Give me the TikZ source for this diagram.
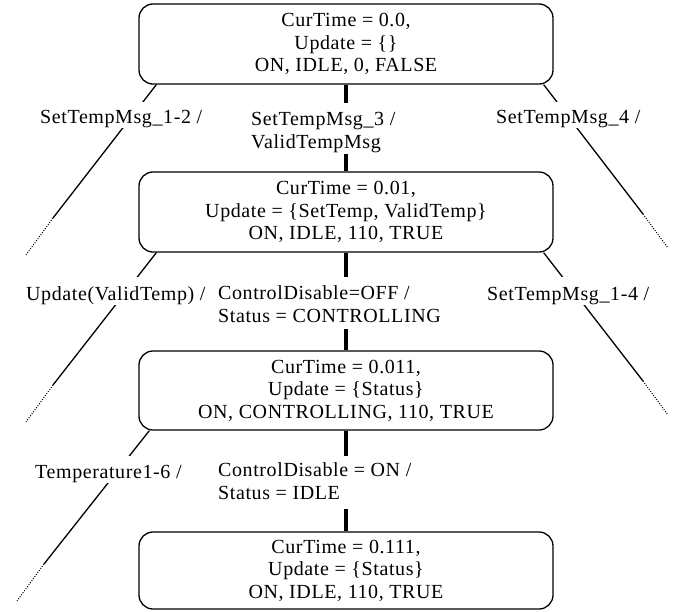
\documentclass[tikz,border=0pt]{standalone}
\usepackage{fontspec}
\setmainfont{Liberation Serif}[LetterSpace=3]
\usetikzlibrary{calc}
\begin{document}
\begin{tikzpicture}[x=1pt,y=-1pt,
  statebox/.style={draw, line width=1.3pt, rounded corners=14pt, minimum width=414pt, inner sep=0pt, align=center, font=\fontsize{20}{22.5}\selectfont},
  trans/.style={line width=1.3pt},
  main/.style={line width=4pt},
  more/.style={line width=1pt, dash pattern=on 1pt off 1.5pt},
  sidelbl/.style={fill=white, inner xsep=1pt, inner ysep=0pt, anchor=base west, font=\fontsize{20}{23}\selectfont},
  midlbl/.style={fill=white, inner xsep=1pt, inner ysep=0pt, anchor=north west, align=left, font=\fontsize{20}{23}\selectfont}
]
\useasboundingbox (0,0) rectangle (676,611);

% states
\node[statebox, minimum height=80pt] (b1) at (346,44) {CurTime = 0.0,\\ Update = \{\}\\ ON, IDLE, 0, FALSE};
\node[statebox, minimum height=80pt] (b2) at (346,212) {CurTime = 0.01,\\ Update = \{SetTemp, ValidTemp\}\\ ON, IDLE, 110, TRUE};
\node[statebox, minimum height=79pt] (b3) at (346,390.5) {CurTime = 0.011,\\ Update = \{Status\}\\ ON, CONTROLLING, 110, TRUE};
\node[statebox, minimum height=77pt] (b4) at (346,570.5) {CurTime = 0.111,\\ Update = \{Status\}\\ ON, IDLE, 110, TRUE};

% main transitions
\draw[main] (b1.south) -- (b2.north);
\draw[main] (b2.south) -- (b3.north);
\draw[main] (b3.south) -- (b4.north);

% side transitions
\coordinate (e1a) at (53,218);  \coordinate (e1b) at (26,255);
\coordinate (f1a) at (643,214); \coordinate (f1b) at (668,248);
\coordinate (e2a) at (53,385);  \coordinate (e2b) at (26,422);
\coordinate (f2a) at (643,381); \coordinate (f2b) at (668,415);
\coordinate (e3a) at (44,564);  \coordinate (e3b) at (17,601);

\draw[trans] ($(b1.south west)+(18,0)$) -- (e1a);
\draw[more] (e1a) -- (e1b);
\draw[trans] ($(b1.south east)+(-10,0)$) -- (f1a);
\draw[more] (f1a) -- (f1b);
\draw[trans] ($(b2.south west)+(18,0)$) -- (e2a);
\draw[more] (e2a) -- (e2b);
\draw[trans] ($(b2.south east)+(-10,0)$) -- (f2a);
\draw[more] (f2a) -- (f2b);
\draw[trans] ($(b3.south west)+(11,0)$) -- (e3a);
\draw[more] (e3a) -- (e3b);

% labels
\node[sidelbl, text height=21pt, text depth=5pt] (l1) at (39,123) {SetTempMsg\_1-2 /};
\node[sidelbl, text height=21pt, text depth=5pt] (r1) at (495,123) {SetTempMsg\_4 /};
\node[midlbl] (m1) at (250,103) {\rule{0pt}{22pt}SetTempMsg\_3 /\\ ValidTempMsg\rule[-6pt]{0pt}{6pt}};

\node[midlbl] (m2) at (217,277) {\rule{0pt}{22pt}ControlDisable=OFF /\\ Status = CONTROLLING\rule[-7pt]{0pt}{7pt}};
\node[sidelbl, text height=23pt, text depth=5pt] (l2) at (25,300) {Update(ValidTemp) /};
\node[sidelbl, text height=23pt, text depth=5pt] (r2) at (486,300) {SetTempMsg\_1-4 /};

\node[sidelbl, text height=22pt, text depth=5pt] (l3) at (34,478) {Temperature1-6 /};
\node[midlbl] (m3) at (217,456) {\rule{0pt}{20pt}ControlDisable = ON /\\ Status = IDLE\rule[-10pt]{0pt}{10pt}};
\end{tikzpicture}
\end{document}
